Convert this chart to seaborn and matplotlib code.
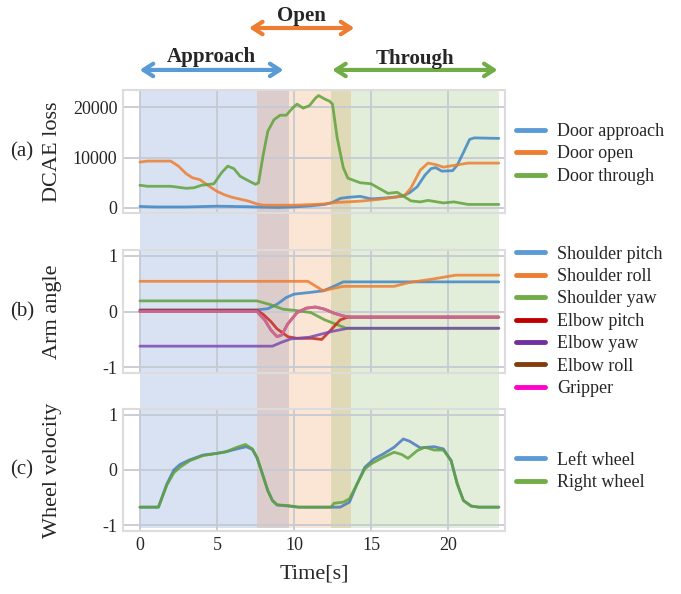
import numpy as np
import pandas as pd
import matplotlib
matplotlib.use("Agg")
import matplotlib.pyplot as plt
import seaborn as sns

# ---- data ----
# (a) DCAE loss
t_app = [0, 1, 3, 5, 6, 7, 8, 9, 10, 11, 12, 12.5, 13, 13.5, 14.3, 15, 16, 17, 17.5, 18, 18.5,
         18.9, 19.2, 19.6, 20.3, 20.6, 21.0, 21.4, 21.7, 23.3]
v_app = [300, 200, 200, 350, 300, 250, 150, 100, 200, 400, 700, 1100, 1900, 2100, 2300, 1800, 2000,
         2300, 3000, 4200, 6500, 7800, 8000, 7300, 7400, 8500, 11000, 13600, 13900, 13800]
t_open = [0, 0.5, 2, 2.5, 3, 3.4, 3.9, 4.5, 5, 5.5, 6, 7, 7.6, 8, 10, 11, 12, 12.7, 13.5, 14.5,
          15.5, 16.5, 17.2, 17.6, 18.2, 18.7, 19.2, 19.7, 20.3, 21.3, 23.3]
v_open = [9100, 9300, 9300, 8300, 6800, 6000, 5600, 4300, 3300, 2600, 2100, 1400, 800, 550, 550,
          650, 800, 1100, 1200, 1400, 1700, 2100, 2500, 4000, 7500, 8900, 8600, 8100, 8400, 8900, 8900]
t_thr = [0, 0.5, 2, 3, 3.5, 4, 4.8, 5.3, 5.7, 6.1, 6.5, 7.1, 7.5, 7.7, 8.0, 8.3, 8.7, 9.1, 9.5,
         9.9, 10.2, 10.6, 11.0, 11.4, 11.6, 12.0, 12.3, 12.5, 12.8, 13.2, 13.5, 14.3, 15.0, 16.1,
         16.7, 17.6, 18.2, 18.7, 19.7, 20.4, 21.3, 23.3]
v_thr = [4500, 4300, 4300, 3900, 4000, 4500, 4800, 7000, 8300, 7800, 6300, 5300, 4700, 5000, 10500,
         15200, 17500, 18400, 18400, 19800, 20600, 19800, 20300, 21800, 22300, 21600, 21200, 20600,
         14000, 8000, 5900, 5000, 4800, 2900, 3100, 1400, 1200, 1500, 1000, 1200, 700, 700]

# (b) arm angle
t_sp = [0, 7.6, 8.3, 8.9, 9.5, 10.0, 11.0, 11.9, 12.5, 13.2, 23.3]
v_sp = [0.03, 0.03, 0.05, 0.13, 0.25, 0.31, 0.34, 0.37, 0.44, 0.53, 0.53]
t_sr = [0, 10.9, 11.9, 12.5, 13.2, 16.5, 17.5, 19, 20.5, 23.3]
v_sr = [0.54, 0.54, 0.37, 0.41, 0.45, 0.45, 0.52, 0.58, 0.65, 0.65]
t_sy = [0, 7.6, 8.5, 9.3, 10.1, 11.1, 12.0, 13.4, 23.3]
v_sy = [0.19, 0.19, 0.12, 0.04, 0.02, -0.02, -0.15, -0.3, -0.3]
t_ep = [0, 7.6, 8.0, 8.5, 8.9, 9.6, 10.2, 11.2, 11.8, 12.4, 13.0, 13.5, 23.3]
v_ep = [0.02, 0.02, -0.05, -0.18, -0.31, -0.45, -0.48, -0.48, -0.5, -0.33, -0.15, -0.1, -0.1]
t_ey = [0, 8.6, 9.2, 9.8, 11, 12.4, 13.5, 23.3]
v_ey = [-0.62, -0.62, -0.55, -0.49, -0.46, -0.36, -0.3, -0.3]
t_er = [0, 7.6, 8.1, 8.5, 8.9, 9.2, 9.6, 10.2, 10.8, 11.4, 12.0, 12.6, 13.2, 13.6, 23.3]
v_er = [0.0, 0.0, -0.15, -0.33, -0.45, -0.42, -0.22, -0.02, 0.06, 0.08, 0.04, -0.03, -0.08, -0.1, -0.1]
t_gr = [0, 7.6, 8.1, 8.5, 8.9, 9.2, 9.6, 10.2, 10.8, 11.4, 12.0, 12.6, 13.2, 13.6, 23.3]
v_gr = [0.0, 0.0, -0.15, -0.33, -0.45, -0.42, -0.22, -0.02, 0.06, 0.08, 0.04, -0.03, -0.08, -0.1, -0.1]

# (c) wheel velocity
t_lw = [0, 1.2, 1.75, 2.2, 2.6, 3.2, 4.1, 5.0, 5.6, 6.3, 6.9, 7.3, 7.6, 7.95, 8.3, 8.6, 8.9, 9.6,
        10.3, 13.0, 13.6, 14.1, 14.6, 15.2, 15.8, 16.5, 17.1, 17.5, 18.2, 19.1, 19.7, 20.2, 20.6,
        21.0, 21.5, 22, 23.3]
v_lw = [-0.67, -0.67, -0.25, 0.0, 0.1, 0.18, 0.27, 0.3, 0.33, 0.38, 0.42, 0.37, 0.22, -0.07, -0.37,
        -0.55, -0.63, -0.65, -0.67, -0.67, -0.58, -0.25, 0.05, 0.2, 0.29, 0.41, 0.56, 0.52, 0.4,
        0.42, 0.38, 0.17, -0.25, -0.55, -0.65, -0.67, -0.67]
t_rw = [0, 1.2, 1.75, 2.2, 2.6, 3.25, 4.1, 5.0, 5.6, 6.3, 6.85, 7.3, 7.6, 7.95, 8.3, 8.6, 8.9, 9.6,
        10.3, 12.4, 12.6, 13.2, 13.6, 14.1, 14.6, 15.0, 15.8, 16.5, 17.0, 17.4, 18.0, 18.5, 19.1,
        19.7, 20.2, 20.6, 21.0, 21.5, 22, 23.3]
v_rw = [-0.67, -0.67, -0.27, -0.05, 0.05, 0.17, 0.26, 0.3, 0.33, 0.41, 0.46, 0.38, 0.23, -0.07,
        -0.37, -0.55, -0.63, -0.64, -0.67, -0.67, -0.6, -0.58, -0.52, -0.25, 0.02, 0.11, 0.23, 0.32,
        0.28, 0.21, 0.35, 0.41, 0.36, 0.36, 0.17, -0.25, -0.55, -0.65, -0.67, -0.67]

# phases (start, end) in seconds
phase_names = ["Approach", "Open", "Through"]
phase_start = [0, 7.6, 12.4]
phase_end = [9.7, 13.7, 23.3]

blue, orange, green = "#5B9BD5", "#ED7D31", "#70AD47"
phase_colors = ["#4472C4", orange, green]


def long_df(series):
    rows = []
    for name, t, v in series:
        rows.append(pd.DataFrame({"t": t, "v": v, "name": name}))
    return pd.concat(rows, ignore_index=True)


df_a = long_df([("Door approach", t_app, v_app), ("Door open", t_open, v_open),
                ("Door through", t_thr, v_thr)])
df_b = long_df([("Shoulder pitch", t_sp, v_sp), ("Shoulder roll", t_sr, v_sr),
                ("Shoulder yaw", t_sy, v_sy), ("Elbow pitch", t_ep, v_ep),
                ("Elbow yaw", t_ey, v_ey), ("Elbow roll", t_er, v_er), ("Gripper", t_gr, v_gr)])
df_c = long_df([("Left wheel", t_lw, v_lw), ("Right wheel", t_rw, v_rw)])

# line colours in the plot, and the (brighter) colours of the legend keys
pal_a = ["#3F86C4", orange, "#5FA23A"]
pal_b = ["#3F86C4", orange, "#5FA23A", "#C8281E", "#7B4AAE", "#843C0C", "#D96BA8"]
pal_c = ["#4A78C0", "#5FA23A"]
leg_a = [blue, orange, green]
leg_b = [blue, orange, green, "#C00000", "#7030A0", "#843C0C", "#FF00CC"]
leg_c = [blue, green]

sns.set_style("whitegrid", {"grid.color": "#c5cad3", "axes.edgecolor": "#dcdcdc"})
plt.rcParams["font.family"] = ["Liberation Serif", "DejaVu Serif"]
plt.rcParams["axes.unicode_minus"] = False

fig = plt.figure(figsize=(6.81, 5.94), dpi=100)
W, H = 681, 594
left, right = 123 / W, 505 / W
xlim = (-1.1, 23.7)

# background axes for phase shading, spanning all panels
bg = fig.add_axes([left, 1 - 528 / H, right - left, (528 - 90) / H])
bg.set_xlim(xlim)
bg.axis("off")
for s, e, c in zip(phase_start, phase_end, phase_colors):
    bg.axvspan(s, e, color=c, alpha=0.2, lw=0)
bg.set_zorder(0)

panels = [(90, 213), (250, 373), (409, 531)]
axes = []
for top, bot in panels:
    ax = fig.add_axes([left, 1 - bot / H, right - left, (bot - top) / H])
    ax.set_facecolor("none")
    ax.set_zorder(1)
    axes.append(ax)

specs = [
    (df_a, pal_a, leg_a, "DCAE loss", "(a)", (-1000, 23400), [0, 10000, 20000], 0.48),
    (df_b, pal_b, leg_b, "Arm angle", "(b)", (-1.1, 1.1), [-1, 0, 1], 0.42),
    (df_c, pal_c, leg_c, "Wheel velocity", "(c)", (-1.1, 1.1), [-1, 0, 1], 0.49),
]
for i, (df, pal, lpal, ylab, tag, ylim, yt, ly) in enumerate(specs):
    ax = axes[i]
    sns.lineplot(data=df, x="t", y="v", hue="name", palette=pal, estimator=None, sort=False,
                 lw=2, alpha=0.85, ax=ax)
    ax.set_xlim(xlim)
    ax.set_ylim(ylim)
    ax.set_yticks(yt)
    ax.set_xticks([0, 5, 10, 15, 20])
    ax.tick_params(labelsize=13, length=0, pad=4)
    for sp in ax.spines.values():
        sp.set_linewidth(1.5)
    ax.grid(True, lw=1.3)
    ax.set_ylabel(ylab, fontsize=16)
    ax.yaxis.set_label_coords(-0.16, 0.5)
    ax.set_xlabel("")
    leg = ax.legend(loc="center left", bbox_to_anchor=(0.995, ly), frameon=False, fontsize=13,
                    handlelength=1.6, handletextpad=0.7, labelspacing=0.3, borderaxespad=0.3)
    for h, c in zip(leg.get_lines(), lpal):
        h.set_linewidth(3.5)
        h.set_alpha(1)
        h.set_color(c)
    top, bot = panels[i]
    fig.text(10 / W, 1 - (top + bot) / 2 / H, tag, fontsize=15, va="center", ha="left")

for ax in axes[:2]:
    ax.set_xticklabels([])
axes[2].set_xlabel("Time[s]", fontsize=16, labelpad=8)

# phase arrows above the top panel
ax = axes[0]
tr = ax.get_xaxis_transform()
arrows = [("Approach", -0.2, 9.5, 1.163, 1.265, blue),
          ("Open", 6.9, 14.1, 1.504, 1.6, orange),
          ("Through", 12.3, 23.4, 1.163, 1.25, green)]
for name, x0, x1, ya, yt_, c in arrows:
    ax.annotate("", xy=(x0, ya), xytext=(x1, ya), xycoords=tr, textcoords=tr,
                arrowprops=dict(arrowstyle="<->,head_length=0.7,head_width=0.45", color=c, lw=3),
                annotation_clip=False)
    ax.text((x0 + x1) / 2, yt_, name, transform=tr, ha="center", va="center",
            fontsize=15, fontweight="bold")

fig.savefig("out.png", dpi=100)
